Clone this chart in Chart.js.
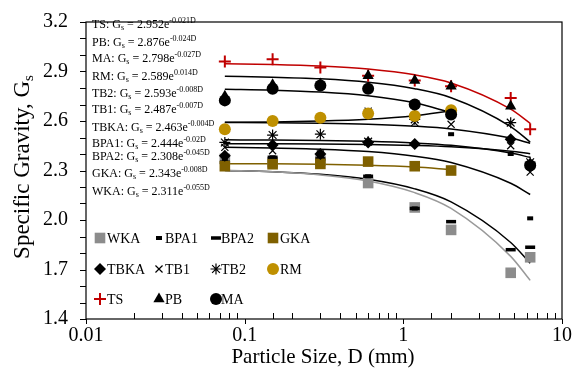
<!DOCTYPE html>
<html>
<head>
<meta charset="utf-8">
<script src="https://cdn.jsdelivr.net/npm/chart.js@4.4.0/dist/chart.umd.min.js"></script>
<style>
  html, body { margin: 0; padding: 0; background: #fff; }
</style>
</head>
<body>
<canvas id="gsChart" width="580" height="379"></canvas>
<script>
// sieve sizes (mm)
const sizes = [0.075, 0.15, 0.3, 0.6, 1.18, 2, 4.75, 6.3];

// measured specific gravity per soil
const WKA  = [2.37, 2.35, 2.36, 2.224, 2.076, 1.94, 1.68, 1.774];
const BPA1 = [2.37, 2.38, 2.39, 2.265, 2.07, 2.52, 2.40, 2.01];
const BPA2 = [2.35, 2.38, 2.37, 2.265, 2.07, 1.99, 1.82, 1.835];
const GKA  = [2.326, 2.338, 2.34, 2.354, 2.326, 2.30, null, null];
const TBKA = [2.39, 2.455, 2.40, 2.47, 2.46, null, 2.49, 2.34];
const TB1  = [2.44, 2.42, 2.40, 2.66, 2.59, 2.58, 2.45, 2.29];
const TB2  = [2.47, 2.515, 2.52, 2.475, 2.61, 2.66, 2.59, 2.35];
const RM   = [2.55, 2.60, 2.62, 2.645, 2.63, 2.665, null, null];
const TS   = [2.96, 2.975, 2.925, 2.875, 2.845, 2.81, 2.74, 2.55];
const PB   = [2.75, 2.82, 2.825, 2.875, 2.845, 2.81, 2.69, null];
const MA   = [2.725, 2.795, 2.815, 2.795, 2.70, 2.64, null, 2.33];

const names = ['WKA', 'BPA1', 'BPA2', 'GKA', 'TBKA', 'TB1', 'TB2', 'RM', 'TS', 'PB', 'MA'];
const values = [WKA, BPA1, BPA2, GKA, TBKA, TB1, TB2, RM, TS, PB, MA];

// exponential fits Gs = a * e^(b*D)
const fitA = [2.311, 2.444, 2.308, 2.343, 2.463, 2.487, 2.593, 2.589, 2.952, 2.876, 2.798];
const fitB = [-0.055, -0.02, -0.045, -0.008, -0.004, -0.007, -0.008, 0.014, -0.021, -0.024, -0.027];
const fitEnd = [6.3, 6.3, 6.3, 2, 6.3, 6.3, 6.3, 2, 6.3, 6.3, 2];

const yTicks = [1.4, 1.7, 2.0, 2.3, 2.6, 2.9, 3.2];

const RED = '#C00000', GRAY = '#8C8C8C', BROWN = '#7F6000', GOLD = '#BF9000';
const FONT = '"Liberation Serif", "Times New Roman", serif';

const markers = {
  WKA:  { pointStyle: 'rect', radius: 7.5, color: GRAY, borderWidth: 0 },
  BPA1: { pointStyle: 'line', radius: 3, color: '#000', borderWidth: 4 },
  BPA2: { pointStyle: 'line', radius: 5, color: '#000', borderWidth: 3.5 },
  GKA:  { pointStyle: 'rect', radius: 7.5, color: BROWN, borderWidth: 0 },
  TBKA: { pointStyle: 'rectRot', radius: 6, color: '#000', borderWidth: 0 },
  TB1:  { pointStyle: 'crossRot', radius: 5, color: '#000', borderWidth: 1.2 },
  TB2:  { pointStyle: 'star', radius: 5.5, color: '#000', borderWidth: 1.2 },
  RM:   { pointStyle: 'circle', radius: 6, color: GOLD, borderWidth: 0 },
  TS:   { pointStyle: 'cross', radius: 6, color: RED, borderWidth: 2 },
  PB:   { pointStyle: 'triangle', radius: 6.5, color: '#000', borderWidth: 0 },
  MA:   { pointStyle: 'circle', radius: 6, color: '#000', borderWidth: 0 }
};
const fitColor = { WKA: '#999999', GKA: BROWN, TS: RED };

const datasets = [];
names.forEach((name, i) => {
  const m = markers[name];
  datasets.push({
    label: name,
    data: sizes.map((d, k) => ({ x: d, y: values[i][k] })).filter(p => p.y !== null),
    showLine: false,
    pointStyle: m.pointStyle,
    pointRadius: m.radius,
    pointHoverRadius: m.radius,
    pointBackgroundColor: m.color,
    pointBorderColor: m.color,
    pointBorderWidth: m.borderWidth,
    order: 30 - i
  });
});
names.forEach((name, i) => {
  datasets.push({
    label: name + ' fit',
    data: sizes.filter(d => d <= fitEnd[i]).map(d => ({ x: d, y: fitA[i] * Math.exp(fitB[i] * d) })),
    showLine: true,
    borderColor: fitColor[name] || '#000',
    borderWidth: 1.5,
    pointRadius: 0,
    cubicInterpolationMode: 'monotone',
    order: 60
  });
});

// legend grid inside the plot
const legendCols = [{ m: 100, t: 107 }, { m: 159, t: 165 }, { m: 216, t: 221 }, { m: 273, t: 280 }];
const legendRows = [238, 269, 299];
// equation lines, top to bottom
const eqOrder = ['TS', 'PB', 'MA', 'RM', 'TB2', 'TB1', 'TBKA', 'BPA1', 'BPA2', 'GKA', 'WKA'];
const eqY = [25, 43, 59, 77, 94, 110, 128, 144, 157, 174, 192];

function richText(ctx, parts, x, y, align) {
  let total = 0;
  parts.forEach(p => { ctx.font = p.size + 'px ' + FONT; p.w = ctx.measureText(p.t).width; total += p.w; });
  let cx = align === 'center' ? x - total / 2 : x;
  parts.forEach(p => {
    ctx.font = p.size + 'px ' + FONT;
    ctx.fillText(p.t, cx, y + (p.dy || 0));
    cx += p.w;
  });
}

const decor = {
  id: 'decor',
  afterDraw(chart) {
    const ctx = chart.ctx, a = chart.chartArea;
    const xs = chart.scales.x, ys = chart.scales.y;
    ctx.save();
    ctx.strokeStyle = '#000';
    ctx.lineWidth = 1.2;
    ctx.strokeRect(a.left, a.top, a.right - a.left, a.bottom - a.top);
    // y ticks (outward)
    ctx.lineWidth = 1;
    ys.ticks.forEach(t => {
      const py = Math.round(ys.getPixelForValue(t.value)) + 0.5;
      ctx.beginPath(); ctx.moveTo(a.left - 6, py); ctx.lineTo(a.left, py); ctx.stroke();
    });
    // x ticks: decades outward, minor inward
    xs.ticks.forEach(t => {
      const px = Math.round(xs.getPixelForValue(t.value)) + 0.5;
      const lg = Math.log10(t.value);
      ctx.beginPath();
      if (Math.abs(lg - Math.round(lg)) < 1e-6) { ctx.moveTo(px, a.bottom); ctx.lineTo(px, a.bottom + 5); }
      else { ctx.moveTo(px, a.bottom); ctx.lineTo(px, a.bottom - 6); }
      ctx.stroke();
    });
    ctx.fillStyle = '#000';
    ctx.textBaseline = 'middle';
    ctx.textAlign = 'left';
    // axis titles
    richText(ctx, [{ t: 'Particle Size, D (mm)', size: 21 }], 323, 357, 'center');
    ctx.save();
    ctx.translate(23, 167);
    ctx.rotate(-Math.PI / 2);
    richText(ctx, [{ t: 'Specific Gravity, G', size: 23 }, { t: 's', size: 15, dy: 6 }], 0, 0, 'center');
    ctx.restore();
    // equations
    eqOrder.forEach((name, k) => {
      const i = names.indexOf(name);
      richText(ctx, [
        { t: name + ': G', size: 12 },
        { t: 's', size: 8, dy: 3 },
        { t: ' = ' + fitA[i] + 'e', size: 12 },
        { t: fitB[i] + 'D', size: 8, dy: -4 }
      ], 92, eqY[k], 'left');
    });
    // legend
    names.forEach((name, i) => {
      const col = legendCols[i % 4], row = legendRows[Math.floor(i / 4)];
      const m = markers[name];
      ctx.fillStyle = m.color; ctx.strokeStyle = m.color; ctx.lineWidth = m.borderWidth;
      Chart.helpers.drawPoint(ctx, { pointStyle: m.pointStyle, radius: m.radius, rotation: 0, borderWidth: m.borderWidth }, col.m, row);
      ctx.fillStyle = '#000';
      richText(ctx, [{ t: name, size: 14 }], col.t, row + 1, 'left');
    });
    ctx.restore();
  }
};

new Chart(document.getElementById('gsChart'), {
  type: 'scatter',
  data: { datasets: datasets },
  options: {
    responsive: false,
    devicePixelRatio: 1,
    animation: false,
    layout: { padding: { top: 15, right: 18, left: 0, bottom: 0 } },
    plugins: { legend: { display: false }, tooltip: { enabled: false } },
    scales: {
      x: {
        type: 'logarithmic',
        min: 0.01,
        max: 10,
        grid: { display: false },
        border: { display: false },
        ticks: {
          autoSkip: false,
          maxRotation: 0,
          padding: -3,
          color: '#000',
          font: { family: FONT, size: 20 },
          callback: v => {
            const lg = Math.log10(v);
            return Math.abs(lg - Math.round(lg)) < 1e-6 ? String(Number(v.toPrecision(3))) : '';
          }
        },
        afterFit: s => { s.height = 60; }
      },
      y: {
        min: 1.4,
        max: 3.2,
        grid: { display: false },
        border: { display: false },
        ticks: {
          stepSize: 0.1,
          autoSkip: false,
          padding: 10,
          color: '#000',
          font: { family: FONT, size: 20 },
          callback: v => yTicks.some(t => Math.abs(t - v) < 1e-6) ? v.toFixed(1) : ''
        },
        afterFit: s => { s.width = 86; }
      }
    }
  },
  plugins: [decor]
});
</script>
</body>
</html>
